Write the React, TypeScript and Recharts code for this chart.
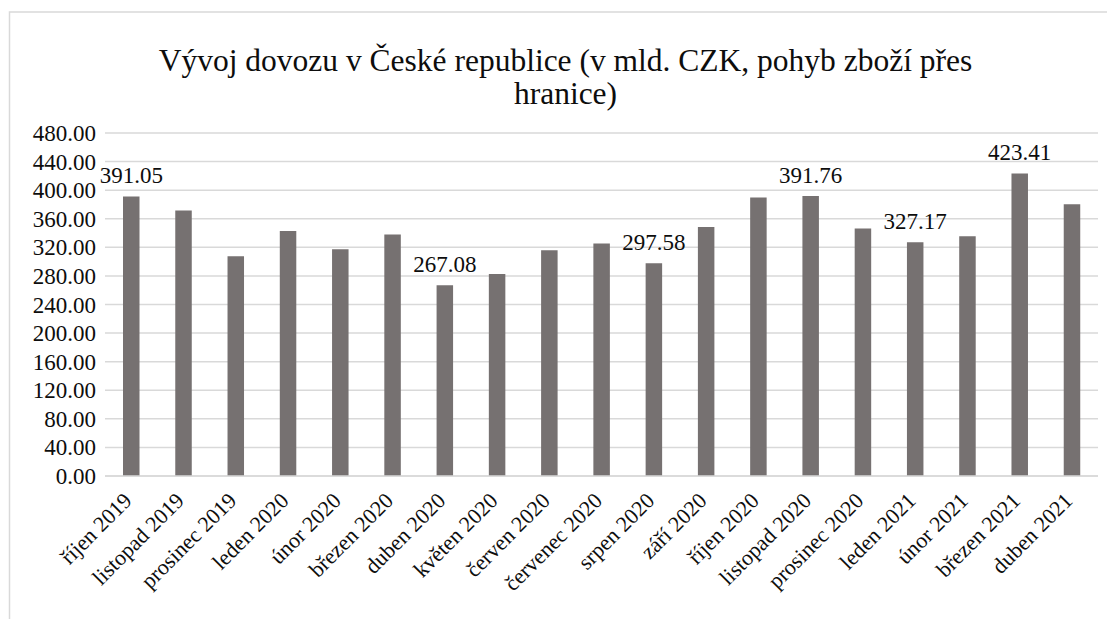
import { BarChart, Bar, XAxis, YAxis, CartesianGrid, LabelList } from 'recharts'

const months = [
  'říjen 2019', 'listopad 2019', 'prosinec 2019', 'leden 2020', 'únor 2020', 'březen 2020',
  'duben 2020', 'květen 2020', 'červen 2020', 'červenec 2020', 'srpen 2020', 'září 2020',
  'říjen 2020', 'listopad 2020', 'prosinec 2020', 'leden 2021', 'únor 2021', 'březen 2021', 'duben 2021',
]

const imports = [
  391.05, 371.5, 307.5, 342.8, 317.2, 338.0,
  267.08, 282.6, 315.8, 325.4, 297.58, 348.4,
  389.6, 391.76, 346.5, 327.17, 335.6, 423.41, 380.2,
]

// only these bars carry a value label in the original
const labeledMonths = ['říjen 2019', 'duben 2020', 'srpen 2020', 'listopad 2020', 'leden 2021', 'březen 2021']

const yTicks = [0, 40, 80, 120, 160, 200, 240, 280, 320, 360, 400, 440, 480]

const data = months.map((m, i) => ({ month: m, value: imports[i] }))

const FONT = "'Liberation Serif', 'Times New Roman', serif"
const TEXT = '#0d0d0d'

function MonthTick({ x, y, payload }: any) {
  return (
    <g transform={`translate(${x + 2},${y + 26})`}>
      <text x={0} y={0} textAnchor="end" transform="rotate(-45)" style={{ fontFamily: FONT, fontSize: 22 }} fill={TEXT}>
        {payload.value}
      </text>
    </g>
  )
}

function ValueTick({ x, y, payload }: any) {
  return (
    <text x={x} y={y} dy={8} textAnchor="end" style={{ fontFamily: FONT, fontSize: 23 }} fill={TEXT}>
      {Number(payload.value).toFixed(2)}
    </text>
  )
}

function ValueLabel({ x, y, width, value, index }: any) {
  if (!labeledMonths.includes(months[index])) return null
  return (
    <text x={x + width / 2} y={y - 13.5} textAnchor="middle" style={{ fontFamily: FONT, fontSize: 23 }} fill={TEXT}>
      {Number(value).toFixed(2)}
    </text>
  )
}

export default function App() {
  return (
    <div style={{ position: 'relative', width: 1107, height: 619, background: '#fff', fontFamily: FONT }}>
      <style>{'body{margin:0}'}</style>
      <BarChart
        width={1107}
        height={619}
        data={data}
        margin={{ top: 133, right: 9, left: 0, bottom: 0 }}
      >
        <CartesianGrid vertical={false} stroke="#d9d9d9" strokeWidth={1.5} />
        <XAxis
          dataKey="month"
          interval={0}
          height={143}
          tickLine={false}
          tickSize={0}
          tickMargin={0}
          axisLine={{ stroke: '#d9d9d9', strokeWidth: 1.5 }}
          tick={<MonthTick />}
        />
        <YAxis
          width={105}
          domain={[0, 480]}
          ticks={yTicks}
          interval={0}
          axisLine={false}
          tickLine={false}
          tickMargin={3}
          tick={<ValueTick />}
        />
        <Bar dataKey="value" fill="#767171" barSize={16.5} isAnimationActive={false}>
          <LabelList dataKey="value" content={<ValueLabel />} />
        </Bar>
      </BarChart>
      <svg width={1107} height={619} style={{ position: 'absolute', left: 0, top: 0, pointerEvents: 'none' }}>
        <rect x={9.5} y={12} width={1200} height={700} fill="none" stroke="#d9d9d9" strokeWidth={1.5} />
        <text x={565.5} y={71} textAnchor="middle" style={{ fontFamily: FONT, fontSize: 31.5 }} fill={TEXT}>
          Vývoj dovozu v České republice (v mld. CZK, pohyb zboží přes
        </text>
        <text x={565.5} y={104} textAnchor="middle" style={{ fontFamily: FONT, fontSize: 31.5 }} fill={TEXT}>
          hranice)
        </text>
      </svg>
    </div>
  )
}
